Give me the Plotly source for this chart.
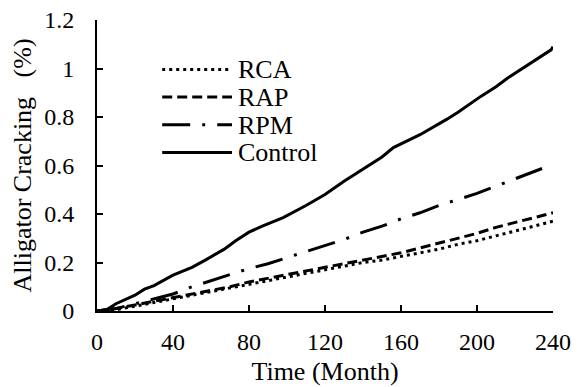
import plotly.graph_objects as go

# Months at which each series was sampled
months = [0, 5, 10, 20, 25, 30, 40, 50, 57, 67, 73, 80, 87, 98, 110, 116, 120,
          130, 142, 150, 156, 170, 184, 190, 202, 210, 216, 230, 239, 240]
control = [0, 0.005, 0.03, 0.065, 0.09, 0.105, 0.148, 0.18, 0.21, 0.255, 0.29,
           0.325, 0.35, 0.385, 0.435, 0.46, 0.48, 0.535, 0.597, 0.635, 0.674,
           0.727, 0.79, 0.82, 0.885, 0.925, 0.96, 1.03, 1.077, 1.09]

rpm_months = [0, 10, 20, 30, 40, 50, 60, 70, 80, 90, 100, 110, 120, 130, 140,
              150, 160, 170, 180, 190, 200, 210, 220, 230, 235]
rpm = [0, 0.01, 0.03, 0.05, 0.07, 0.10, 0.125, 0.15, 0.175, 0.195, 0.22, 0.245,
       0.27, 0.295, 0.325, 0.35, 0.38, 0.405, 0.435, 0.46, 0.485, 0.515, 0.545,
       0.575, 0.59]

base_months = [0, 10, 20, 30, 40, 50, 60, 70, 80, 90, 100, 110, 120, 130, 140,
               150, 160, 170, 180, 190, 200, 210, 220, 230, 240]
rap = [0, 0.01, 0.025, 0.04, 0.055, 0.07, 0.085, 0.10, 0.12, 0.135, 0.15, 0.165,
       0.18, 0.195, 0.21, 0.225, 0.24, 0.26, 0.28, 0.30, 0.32, 0.345, 0.365,
       0.385, 0.405]
rca = [0, 0.005, 0.02, 0.035, 0.05, 0.065, 0.08, 0.095, 0.11, 0.125, 0.14, 0.155,
       0.17, 0.185, 0.20, 0.21, 0.225, 0.24, 0.255, 0.275, 0.29, 0.31, 0.33,
       0.35, 0.37]

x_ticks = [0, 40, 80, 120, 160, 200, 240]
y_ticks = [0, 0.2, 0.4, 0.6, 0.8, 1.0, 1.2]

series_names = ["RCA", "RAP", "RPM", "Control"]
series_dash = ["3px,4px", "10px,5px", "28px,12px,3px,12px", "solid"]

FONT = "Liberation Serif"

fig = go.Figure()
series_x = [base_months, base_months, rpm_months, months]
series_y = [rca, rap, rpm, control]
for name, dash, xs, ys in zip(series_names, series_dash, series_x, series_y):
    fig.add_trace(go.Scatter(x=xs, y=ys, name=name, mode="lines",
                             showlegend=False,
                             line=dict(color="black", width=3, dash=dash)))

# Compact key in the upper-left of the plotting area
key_x0, key_x1, key_text_x = 0.143, 0.296, 0.305
key_top, key_step = 0.83, 0.095
for i, (name, dash) in enumerate(zip(series_names, series_dash)):
    yk = key_top - i * key_step
    fig.add_shape(type="line", xref="paper", yref="paper",
                  x0=key_x0, x1=key_x1, y0=yk, y1=yk,
                  line=dict(color="black", width=3, dash=dash))
    fig.add_annotation(xref="paper", yref="paper", x=key_text_x, y=yk,
                       xanchor="left", yanchor="middle", showarrow=False,
                       text=name, height=26, valign="middle",
                       font=dict(family=FONT, size=26, color="black"))

axis_common = dict(
    showgrid=False, zeroline=False, showline=True, linecolor="black",
    linewidth=2, ticks="inside", ticklen=6, tickwidth=2, tickcolor="black",
    automargin=False,
    tickfont=dict(family=FONT, size=24, color="black"),
)

fig.update_xaxes(range=[0, 240], tickvals=x_ticks, ticklabelstandoff=8,
                 title=dict(text="Time (Month)", standoff=8,
                            font=dict(family=FONT, size=26, color="black")),
                 **axis_common)
fig.update_yaxes(range=[0, 1.2], tickvals=y_ticks, ticklabelstandoff=16,
                 title=dict(text="Alligator Cracking   (%)",
                            standoff=5,
                            font=dict(family=FONT, size=26, color="black")),
                 **axis_common)

fig.update_layout(
    width=580, height=387,
    margin=dict(l=97, r=27, t=20, b=76),
    paper_bgcolor="white", plot_bgcolor="white",
    font=dict(family=FONT, color="black"),
    showlegend=False,
)

fig.write_html("out.html")
